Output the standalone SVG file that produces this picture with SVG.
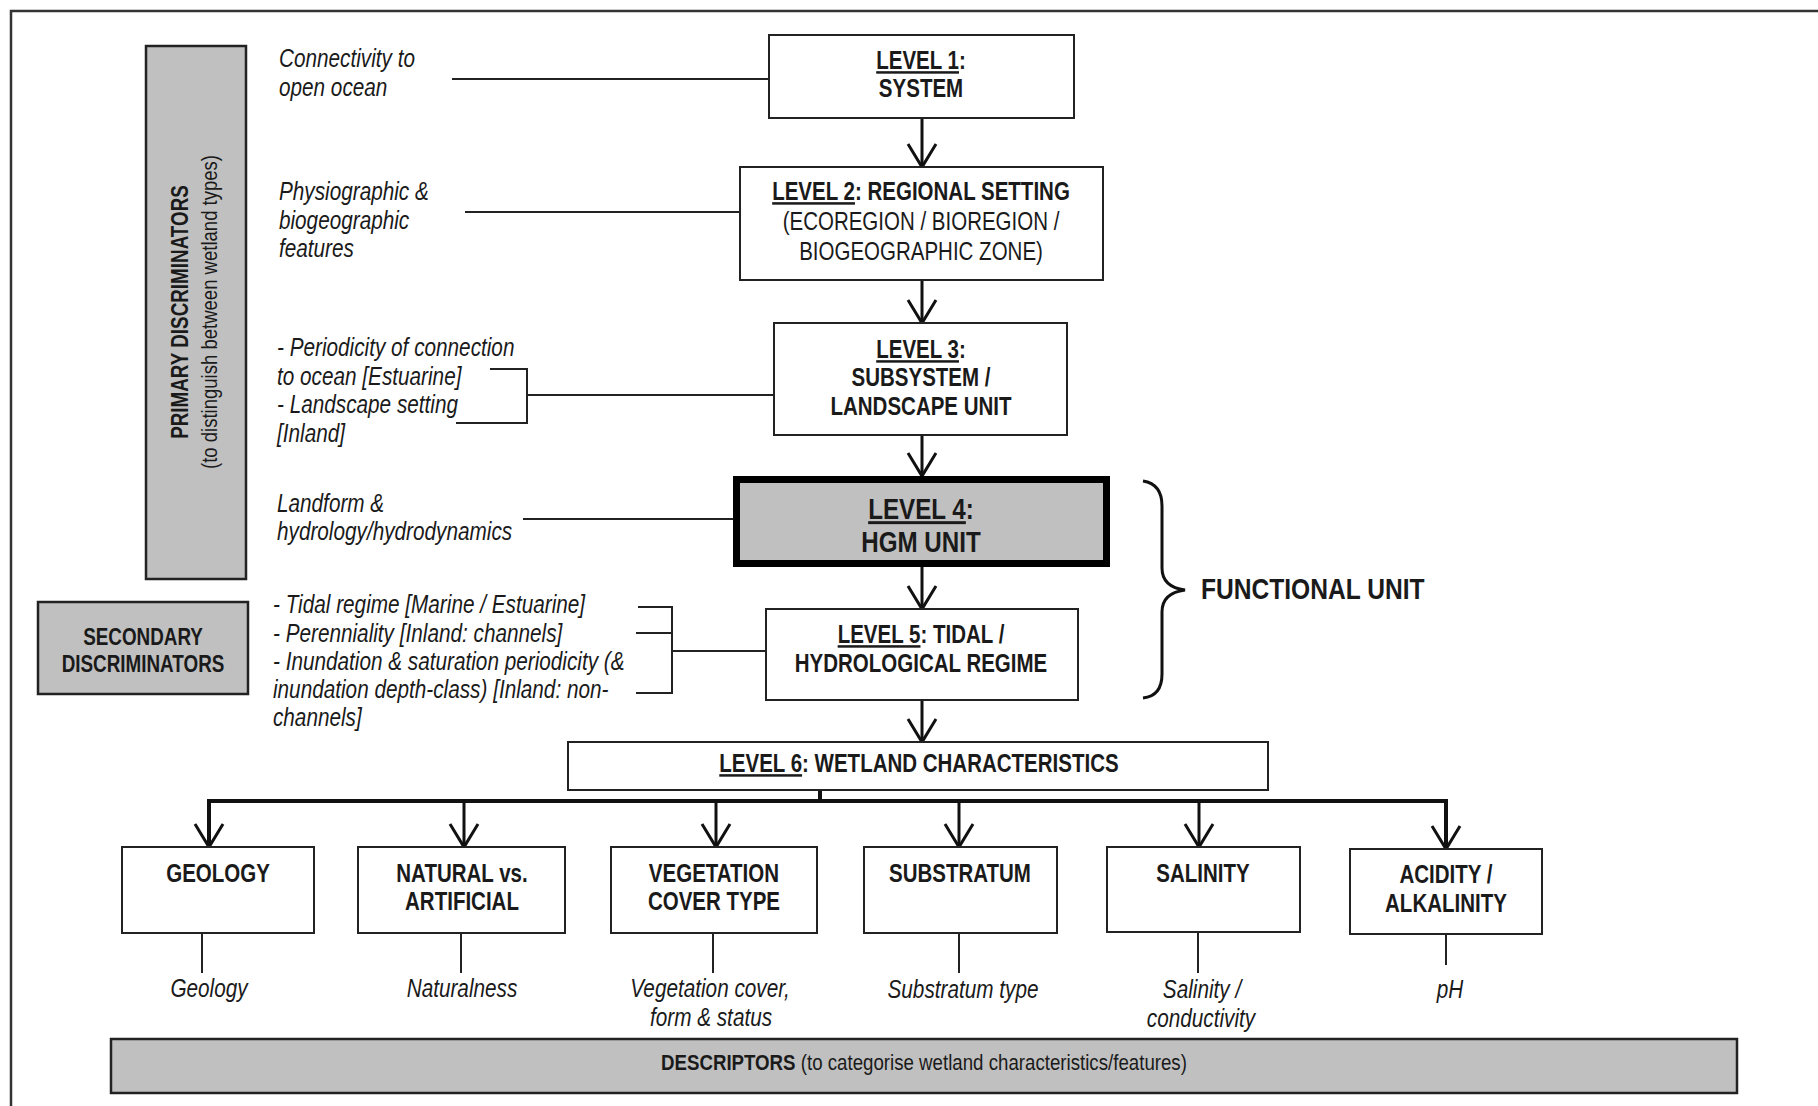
<svg xmlns="http://www.w3.org/2000/svg" width="1818" height="1106" viewBox="0 0 1818 1106">
<defs>
<style>
text{font-family:"Liberation Sans",Arial,sans-serif;fill:#1a1a1a}
.box{fill:#fff;stroke:#222;stroke-width:2}
.grey{fill:#c0c0c0;stroke:#222;stroke-width:2.5}
.ln{stroke:#222;stroke-width:2;fill:none}
.arr{stroke:#111;stroke-width:3;fill:none;marker-end:url(#ah)}
.b{font-weight:bold;font-size:25px}
.n{font-size:25px}
.i{font-style:italic;font-size:25.3px}
.u{text-decoration:underline}
.c{text-anchor:middle}
</style>
<marker id="ah" markerUnits="userSpaceOnUse" viewBox="-26 -16 30 32" markerWidth="30" markerHeight="32" refX="0" refY="0" orient="auto">
<path d="M-23,-14 L0,0 L-23,14" fill="none" stroke="#111" stroke-width="3"/>
</marker>
</defs>
<rect width="1818" height="1106" fill="#fff"/>
<rect x="11" y="11" width="1830" height="1120" fill="none" stroke="#333" stroke-width="2.5"/>

<g id="connectors">
<line class="ln" x1="452" y1="79" x2="769" y2="79"/>
<line class="ln" x1="465" y1="212" x2="740" y2="212"/>
<polyline class="ln" points="490,369 527,369 527,423 456,423"/>
<line class="ln" x1="527" y1="395" x2="774" y2="395"/>
<line class="ln" x1="523" y1="519" x2="733" y2="519"/>
<polyline class="ln" points="638,607 672,607 672,693 636,693"/>
<line class="ln" x1="636" y1="633" x2="672" y2="633"/>
<line class="ln" x1="672" y1="651" x2="766" y2="651"/>
<path d="M1143,481 Q1162,484 1162,506 L1162,568 Q1162,587 1185,590 Q1162,593 1162,612 L1162,674 Q1162,696 1143,698" fill="none" stroke="#111" stroke-width="3"/>
<line class="arr" x1="922" y1="118" x2="922" y2="167"/>
<line class="arr" x1="922" y1="280" x2="922" y2="323"/>
<line class="arr" x1="922" y1="435" x2="922" y2="476"/>
<line class="arr" x1="922" y1="567" x2="922" y2="609"/>
<line class="arr" x1="922" y1="700" x2="922" y2="742"/>
<line x1="820" y1="790" x2="820" y2="801" stroke="#111" stroke-width="4"/>
<polyline points="209,848 209,801 1446,801 1446,849" fill="none" stroke="#111" stroke-width="4"/>
<line class="arr" x1="209" y1="801" x2="209" y2="847"/>
<line class="arr" x1="464" y1="801" x2="464" y2="847"/>
<line class="arr" x1="716" y1="801" x2="716" y2="847"/>
<line class="arr" x1="959" y1="801" x2="959" y2="847"/>
<line class="arr" x1="1199" y1="801" x2="1199" y2="847"/>
<line class="arr" x1="1446" y1="801" x2="1446" y2="849"/>
<line class="ln" x1="202" y1="933" x2="202" y2="973"/>
<line class="ln" x1="461" y1="933" x2="461" y2="973"/>
<line class="ln" x1="713" y1="933" x2="713" y2="973"/>
<line class="ln" x1="959" y1="933" x2="959" y2="973"/>
<line class="ln" x1="1198" y1="932" x2="1198" y2="973"/>
<line class="ln" x1="1446" y1="934" x2="1446" y2="965"/>
</g>

<g id="primary">
<rect class="grey" x="146" y="46" width="100" height="533"/>
<text class="c" font-weight="bold" font-size="23" transform="translate(188,312) rotate(-90) scale(0.82,1)">PRIMARY DISCRIMINATORS</text>
<text class="c" font-size="22.6" transform="translate(217,312) rotate(-90) scale(0.82,1)">(to distinguish between wetland types)</text>
</g>

<g id="secondary">
<rect class="grey" x="38" y="602" width="210" height="92"/>
<g transform="scale(0.82,1)">
<text class="c" font-weight="bold" font-size="23" x="174.4" y="645">SECONDARY</text>
<text class="c" font-weight="bold" font-size="23" x="174.4" y="672">DISCRIMINATORS</text>
</g>
</g>

<g id="note-connectivity" transform="scale(0.82,1)">
<text class="i" x="340.2" y="67">Connectivity to</text>
<text class="i" x="340.2" y="96">open ocean</text>
</g>
<g id="note-physiographic" transform="scale(0.82,1)">
<text class="i" x="340.2" y="200">Physiographic &amp;</text>
<text class="i" x="340.2" y="229">biogeographic</text>
<text class="i" x="340.2" y="257">features</text>
</g>
<g id="note-periodicity" transform="scale(0.82,1)">
<text class="i" x="337.8" y="356">- Periodicity of connection</text>
<text class="i" x="337.8" y="385">to ocean [Estuarine]</text>
<text class="i" x="337.8" y="413">- Landscape setting</text>
<text class="i" x="337.8" y="442">[Inland]</text>
</g>
<g id="note-landform" transform="scale(0.82,1)">
<text class="i" x="337.8" y="512">Landform &amp;</text>
<text class="i" x="337.8" y="540">hydrology/hydrodynamics</text>
</g>
<g id="note-tidal" transform="scale(0.82,1)">
<text class="i" x="332.9" y="613">- Tidal regime [Marine / Estuarine]</text>
<text class="i" x="332.9" y="642">- Perenniality [Inland: channels]</text>
<text class="i" x="332.9" y="670">- Inundation &amp; saturation periodicity (&amp;</text>
<text class="i" x="332.9" y="698">inundation depth-class) [Inland: non-</text>
<text class="i" x="332.9" y="726">channels]</text>
</g>

<g id="level1">
<rect class="box" x="769" y="35" width="305" height="83"/>
<g transform="scale(0.82,1)">
<text class="b c" x="1123.2" y="69"><tspan class="u">LEVEL 1</tspan>:</text>
<text class="b c" x="1123.2" y="97">SYSTEM</text>
</g>
</g>
<g id="level2">
<rect class="box" x="740" y="167" width="363" height="113"/>
<g transform="scale(0.82,1)">
<text class="b c" x="1123.2" y="200"><tspan class="u">LEVEL 2</tspan>: REGIONAL SETTING</text>
<text class="n c" x="1123.2" y="230">(ECOREGION / BIOREGION /</text>
<text class="n c" x="1123.2" y="260">BIOGEOGRAPHIC ZONE)</text>
</g>
</g>
<g id="level3">
<rect class="box" x="774" y="323" width="293" height="112"/>
<g transform="scale(0.82,1)">
<text class="b c" x="1123.2" y="358"><tspan class="u">LEVEL 3</tspan>:</text>
<text class="b c" x="1123.2" y="386">SUBSYSTEM /</text>
<text class="b c" x="1123.2" y="415">LANDSCAPE UNIT</text>
</g>
</g>
<g id="level4">
<rect x="736.5" y="479.5" width="370" height="84" fill="#c0c0c0" stroke="#000" stroke-width="7"/>
<g transform="scale(0.82,1)">
<text class="c" font-weight="bold" font-size="29.5" x="1123.2" y="519"><tspan class="u">LEVEL 4</tspan>:</text>
<text class="c" font-weight="bold" font-size="29.5" x="1123.2" y="552">HGM UNIT</text>
</g>
</g>
<g id="level5">
<rect class="box" x="766" y="609" width="312" height="91"/>
<g transform="scale(0.82,1)">
<text class="b c" x="1123.2" y="643"><tspan class="u">LEVEL 5</tspan>: TIDAL /</text>
<text class="b c" x="1123.2" y="672">HYDROLOGICAL REGIME</text>
</g>
</g>
<g id="functional-unit" transform="scale(0.82,1)">
<text font-weight="bold" font-size="30" x="1464.6" y="599">FUNCTIONAL UNIT</text>
</g>
<g id="level6">
<rect class="box" x="568" y="742" width="700" height="48"/>
<g transform="scale(0.82,1)">
<text class="b c" x="1120.7" y="772"><tspan class="u">LEVEL 6</tspan>: WETLAND CHARACTERISTICS</text>
</g>
</g>

<g id="geology">
<rect class="box" x="122" y="847" width="192" height="86"/>
<g transform="scale(0.82,1)">
<text class="b c" x="265.9" y="882">GEOLOGY</text>
<text class="i c" x="254.9" y="997">Geology</text>
</g>
</g>
<g id="natural">
<rect class="box" x="358" y="847" width="207" height="86"/>
<g transform="scale(0.82,1)">
<text class="b c" x="563.4" y="882">NATURAL vs.</text>
<text class="b c" x="563.4" y="910">ARTIFICIAL</text>
<text class="i c" x="563.4" y="997">Naturalness</text>
</g>
</g>
<g id="vegetation">
<rect class="box" x="611" y="847" width="206" height="86"/>
<g transform="scale(0.82,1)">
<text class="b c" x="870.7" y="882">VEGETATION</text>
<text class="b c" x="870.7" y="910">COVER TYPE</text>
<text class="i c" x="865.9" y="997">Vegetation cover,</text>
<text class="i c" x="867.1" y="1026">form &amp; status</text>
</g>
</g>
<g id="substratum">
<rect class="box" x="864" y="847" width="193" height="86"/>
<g transform="scale(0.82,1)">
<text class="b c" x="1170.7" y="882">SUBSTRATUM</text>
<text class="i c" x="1174.4" y="998">Substratum type</text>
</g>
</g>
<g id="salinity">
<rect class="box" x="1107" y="847" width="193" height="85"/>
<g transform="scale(0.82,1)">
<text class="b c" x="1467.1" y="882">SALINITY</text>
<text class="i c" x="1465.9" y="998">Salinity /</text>
<text class="i c" x="1464.6" y="1027">conductivity</text>
</g>
</g>
<g id="acidity">
<rect class="box" x="1350" y="849" width="192" height="85"/>
<g transform="scale(0.82,1)">
<text class="b c" x="1763.4" y="883">ACIDITY /</text>
<text class="b c" x="1763.4" y="912">ALKALINITY</text>
<text class="i c" x="1768.3" y="998">pH</text>
</g>
</g>

<g id="descriptors">
<rect class="grey" x="111" y="1039" width="1626" height="54"/>
<g transform="scale(0.82,1)">
<text font-size="22.8" x="1126.8" y="1070" class="c"><tspan font-weight="bold">DESCRIPTORS</tspan> (to categorise wetland characteristics/features)</text>
</g>
</g>
</svg>
